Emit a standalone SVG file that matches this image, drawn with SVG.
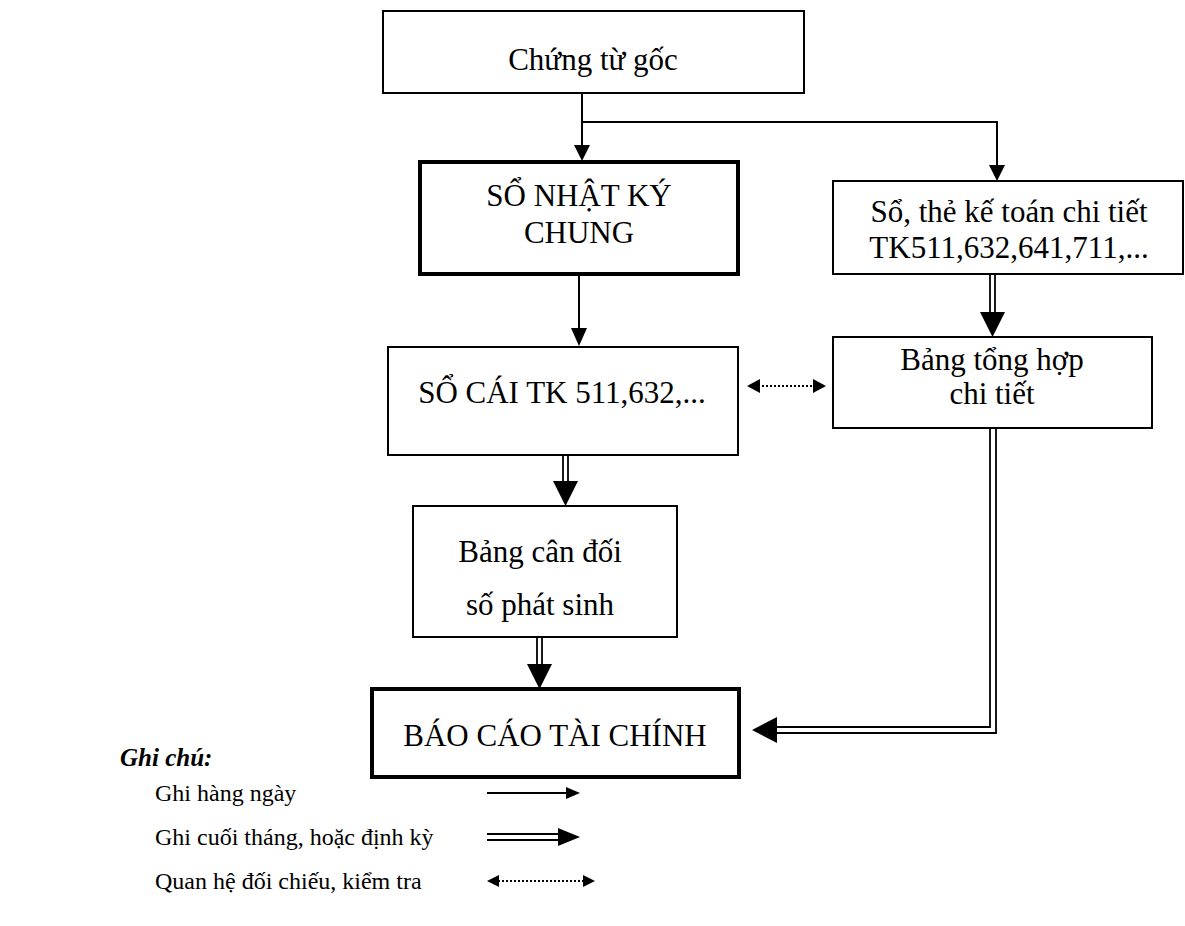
<svg xmlns="http://www.w3.org/2000/svg" width="1185" height="926" viewBox="0 0 1185 926">
<style>
.box{fill:#fff;stroke:#000;stroke-width:2}
.thick{fill:#fff;stroke:#000;stroke-width:4}
.t{font-family:"Liberation Serif","Times New Roman",serif;font-size:31px;fill:#000;text-anchor:middle}
.lg{font-family:"Liberation Serif","Times New Roman",serif;font-size:24px;fill:#000}
.ln{stroke:#000;stroke-width:2;fill:none}
.dl{stroke:#000;stroke-width:1.8;fill:none}
.dot{stroke:#000;stroke-width:2;fill:none;stroke-dasharray:2 2}
.ah{fill:#000}
</style>
<rect width="1185" height="926" fill="#fff"/>
<g id="node-chung-tu-goc">
<rect class="box" x="383" y="11" width="421" height="82"/>
<text class="t" x="593" y="70">Chứng từ gốc</text>
</g>
<g id="node-so-nhat-ky-chung">
<rect class="thick" x="420" y="162" width="318" height="112"/>
<text class="t" x="579" y="206">SỔ NHẬT KÝ</text>
<text class="t" x="579" y="243">CHUNG</text>
</g>
<g id="node-so-the-chi-tiet">
<rect class="box" x="833" y="181" width="350" height="93"/>
<text class="t" x="1009" y="222">Sổ, thẻ kế toán chi tiết</text>
<text class="t" x="1009" y="258">TK511,632,641,711,...</text>
</g>
<g id="node-so-cai">
<rect class="box" x="388" y="347" width="350" height="108"/>
<text class="t" x="562" y="403">SỔ CÁI TK 511,632,...</text>
</g>
<g id="node-bang-tong-hop">
<rect class="box" x="833" y="337" width="319" height="91"/>
<text class="t" x="992" y="370">Bảng tổng hợp</text>
<text class="t" x="992" y="404">chi tiết</text>
</g>
<g id="node-bang-can-doi">
<rect class="box" x="413" y="506" width="264" height="131"/>
<text class="t" x="540" y="562">Bảng cân đối</text>
<text class="t" x="540" y="615">số phát sinh</text>
</g>
<g id="node-bao-cao">
<rect class="thick" x="372" y="689" width="367" height="88"/>
<text class="t" x="555" y="746">BÁO CÁO TÀI CHÍNH</text>
</g>
<g id="connectors">
<line class="ln" x1="582" y1="93" x2="582" y2="146"/>
<polygon class="ah" points="574,145 590,145 582,161"/>
<polyline class="ln" points="582,122 997,122 997,166"/>
<polygon class="ah" points="989,165 1005,165 997,181"/>
<line class="ln" x1="579" y1="276" x2="579" y2="330"/>
<polygon class="ah" points="571,328 587,328 579,346"/>
<line class="dl" x1="990" y1="275" x2="990" y2="314"/>
<line class="dl" x1="995" y1="275" x2="995" y2="314"/>
<polygon class="ah" points="980,312 1005,312 992.5,337"/>
<line class="dot" x1="758" y1="386" x2="815" y2="386"/>
<polygon class="ah" points="747,386 760,379 760,393"/>
<polygon class="ah" points="826,386 813,379 813,393"/>
<line class="dl" x1="563" y1="456" x2="563" y2="483"/>
<line class="dl" x1="568" y1="456" x2="568" y2="483"/>
<polygon class="ah" points="553,481 578,481 565.5,506"/>
<line class="dl" x1="537" y1="638" x2="537" y2="666"/>
<line class="dl" x1="542" y1="638" x2="542" y2="666"/>
<polygon class="ah" points="527,664 552,664 539.5,689"/>
<polyline class="dl" points="990,429 990,727 775,727"/>
<polyline class="dl" points="996,429 996,733 775,733"/>
<polygon class="ah" points="752,730 777,717 777,743"/>
</g>
<g id="legend">
<text x="120" y="766" style="font-family:'Liberation Serif','Times New Roman',serif;font-size:25px;font-weight:bold;font-style:italic">Ghi chú:</text>
<text class="lg" x="155" y="801">Ghi hàng ngày</text>
<text class="lg" x="155" y="845">Ghi cuối tháng, hoặc định kỳ</text>
<text class="lg" x="155" y="889">Quan hệ đối chiếu, kiểm tra</text>
<line class="ln" x1="487" y1="793" x2="567" y2="793"/>
<polygon class="ah" points="580,793 566,787 566,799"/>
<line class="dl" x1="487" y1="834" x2="560" y2="834"/>
<line class="dl" x1="487" y1="840" x2="560" y2="840"/>
<polygon class="ah" points="580,837 558,828 558,846"/>
<line class="dot" x1="498" y1="881" x2="584" y2="881"/>
<polygon class="ah" points="487,881 499,875 499,887"/>
<polygon class="ah" points="595,881 583,875 583,887"/>
</g>
</svg>
